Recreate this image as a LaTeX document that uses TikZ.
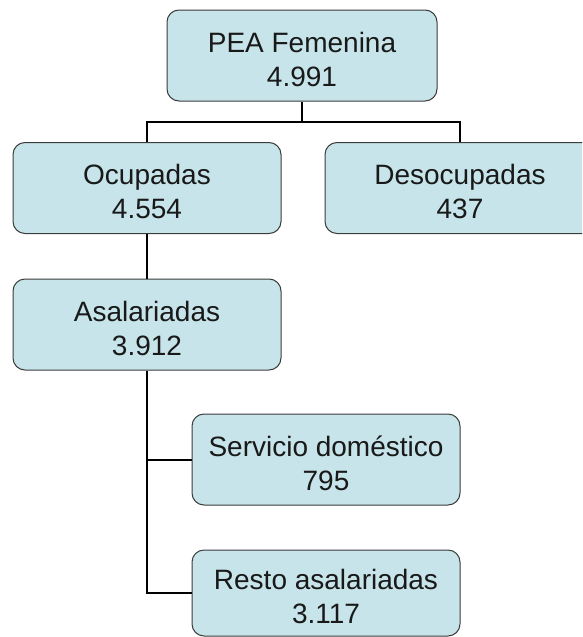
\documentclass[tikz,border=0pt]{standalone}
\usepackage{fontspec}
\setmainfont{Liberation Sans}
\definecolor{boxfill}{RGB}{198,228,233}
\definecolor{boxline}{RGB}{60,60,60}
\definecolor{txt}{RGB}{25,25,25}
\newcommand{\toppad}{\rule{0pt}{28pt}}
\begin{document}
\begin{tikzpicture}[x=1pt,y=-1pt,
  box/.style={draw=boxline, line width=1pt, fill=boxfill, rounded corners=12pt,
    minimum width=268pt, minimum height=91pt, align=center,
    font=\fontsize{28}{34}\selectfont, text=txt, inner sep=0pt},
  link/.style={line width=2pt, draw=black}]
\useasboundingbox (0,0) rectangle (582,637);
\clip (0,0) rectangle (582,637);
\node[box, minimum width=270pt] (pea) at (302,55.5) {\toppad PEA Femenina\\4.991};
\node[box] (ocu) at (147,188) {\toppad Ocupadas\\4.554};
\node[box, minimum width=270pt] (des) at (460,188) {\toppad Desocupadas\\437};
\node[box] (asa) at (147,324.5) {\toppad Asalariadas\\3.912};
\node[box] (ser) at (326,459.5) {\toppad Servicio doméstico\\795};
\node[box, minimum height=86pt] (res) at (326,593) {\toppad Resto asalariadas\\3.117};
\coordinate (j1) at (302,122);
\draw[link] (pea.south) -- (j1);
\draw[link] (ocu.north) |- (j1) -| (des.north);
\draw[link] (ocu.south) -- (asa.north);
\draw[link] (asa.south) |- (ser.west);
\draw[link] (asa.south) |- (res.west);
\end{tikzpicture}
\end{document}
